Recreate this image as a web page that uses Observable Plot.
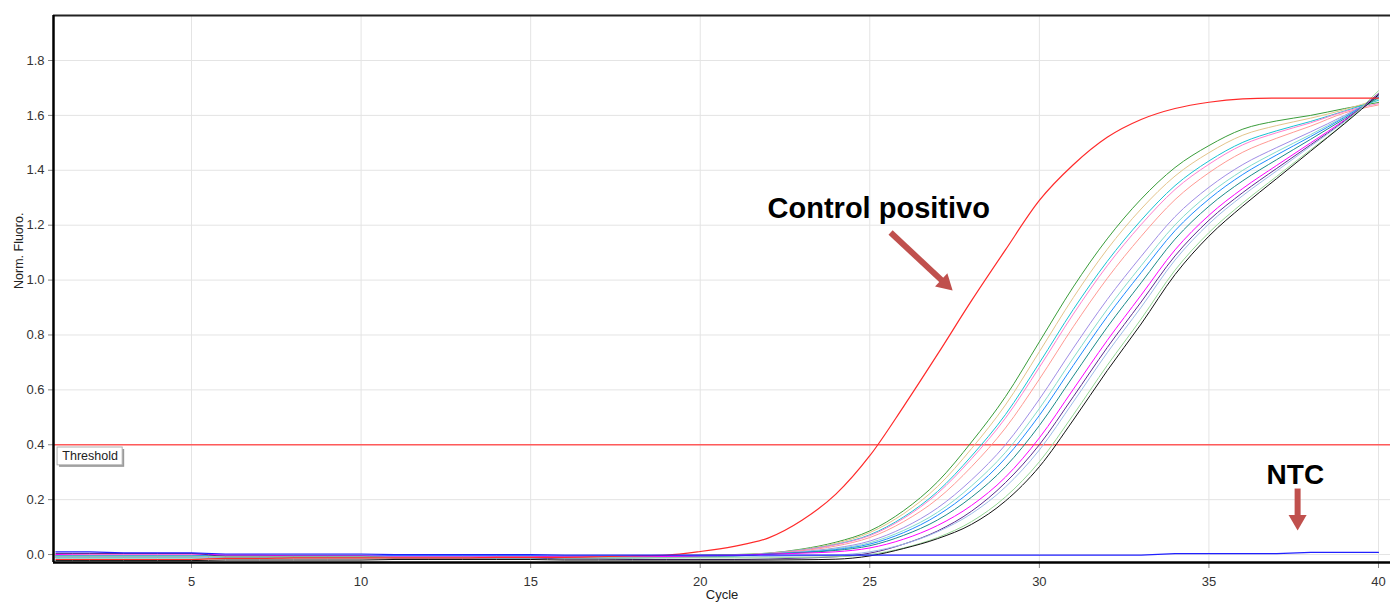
<!DOCTYPE html>
<html>
<head>
<meta charset="utf-8">
<script src="https://cdn.jsdelivr.net/npm/d3@7"></script>
<script src="https://cdn.jsdelivr.net/npm/@observablehq/plot@0.6"></script>
<style>
  html, body { margin: 0; padding: 0; background: #fff; }
  #chart svg { display: block; }
</style>
</head>
<body>
<div id="chart"></div>
<script>
// ---- data ----
const cycles = [1,2,3,4,5,6,7,8,9,10,11,12,13,14,15,16,17,18,19,20,21,22,23,24,25,26,27,28,29,30,31,32,33,34,35,36,37,38,39,40];

const xTicks = [5,10,15,20,25,30,35,40];
const yTicks = [0,0.2,0.4,0.6,0.8,1.0,1.2,1.4,1.6,1.8];
const xDomain = [0.93, 40.354];
const yDomain = [-0.029, 1.964];
const threshold = 0.4;

const sampleNames  = ["S1","S2","S3","S4","S5","S6","S7","S8","S9","S10","S11","S12","S13","S14"];
const sampleColors = ["#3a9d3a","#e4c48c","#19c3d3","#ff80d0","#ff9a94","#a08ee6","#84dccb","#1e8cff","#1b8a8a","#ff00ff","#5b2c8f","#9ebce8","#96d896","#111111"];

const s1  = [-0.004,-0.004,-0.004,-0.004,-0.004,-0.006,-0.006,-0.006,-0.006,-0.008,-0.008,-0.008,-0.008,-0.008,-0.008,-0.006,-0.006,-0.006,-0.004,-0.002,0.0,0.005,0.02,0.045,0.086,0.16,0.265,0.41,0.575,0.775,0.975,1.15,1.295,1.41,1.49,1.55,1.58,1.60,1.625,1.647];
const s2  = [-0.002,-0.002,-0.002,-0.002,-0.002,-0.007,-0.007,-0.007,-0.007,-0.007,-0.01,-0.01,-0.01,-0.01,-0.01,-0.01,-0.008,-0.008,-0.006,-0.004,-0.002,0.005,0.018,0.041,0.080,0.149,0.248,0.386,0.545,0.739,0.936,1.112,1.259,1.379,1.464,1.528,1.563,1.590,1.621,1.66];
const s3  = [-0.008,-0.008,-0.008,-0.008,-0.008,-0.004,-0.004,-0.004,-0.004,-0.004,-0.006,-0.006,-0.006,-0.006,-0.006,-0.009,-0.009,-0.009,-0.007,-0.005,-0.003,0.004,0.017,0.037,0.072,0.137,0.230,0.359,0.510,0.698,0.893,1.068,1.218,1.344,1.434,1.502,1.544,1.578,1.616,1.655];
const s4  = [0.0,0.0,0.0,0.0,0.0,-0.003,-0.003,-0.003,-0.003,-0.003,-0.005,-0.005,-0.005,-0.005,-0.005,-0.007,-0.007,-0.007,-0.005,-0.003,-0.002,0.004,0.016,0.036,0.069,0.132,0.223,0.349,0.497,0.682,0.876,1.052,1.202,1.330,1.422,1.493,1.537,1.573,1.614,1.643];
const s5  = [-0.012,-0.012,-0.012,-0.012,-0.012,-0.014,-0.014,-0.014,-0.014,-0.014,-0.012,-0.012,-0.012,-0.012,-0.012,-0.01,-0.01,-0.01,-0.008,-0.006,-0.004,0.003,0.014,0.031,0.062,0.120,0.203,0.320,0.461,0.639,0.830,1.006,1.159,1.293,1.391,1.466,1.517,1.561,1.609,1.638];
const s6  = [-0.006,-0.006,-0.006,-0.006,-0.006,-0.008,-0.008,-0.008,-0.008,-0.008,-0.011,-0.011,-0.011,-0.011,-0.011,-0.011,-0.011,-0.011,-0.009,-0.007,-0.005,0.003,0.011,0.024,0.049,0.098,0.170,0.272,0.400,0.566,0.752,0.929,1.086,1.231,1.338,1.421,1.483,1.540,1.600,1.665];
const s7  = [-0.015,-0.015,-0.015,-0.015,-0.015,-0.012,-0.012,-0.012,-0.012,-0.012,-0.014,-0.014,-0.014,-0.014,-0.014,-0.014,-0.014,-0.012,-0.01,-0.008,-0.006,0.002,0.009,0.021,0.043,0.088,0.154,0.250,0.372,0.532,0.716,0.893,1.052,1.201,1.313,1.400,1.468,1.530,1.596,1.66];
const s8  = [-0.004,-0.004,-0.004,-0.004,-0.004,-0.002,-0.002,-0.002,-0.002,-0.002,-0.004,-0.004,-0.004,-0.004,-0.004,-0.006,-0.006,-0.006,-0.006,-0.005,-0.004,0.002,0.008,0.018,0.038,0.080,0.143,0.233,0.351,0.507,0.689,0.867,1.027,1.180,1.295,1.385,1.456,1.523,1.593,1.67];
const s9  = [-0.01,-0.01,-0.01,-0.01,-0.01,-0.01,-0.01,-0.01,-0.01,-0.01,-0.008,-0.008,-0.008,-0.008,-0.008,-0.012,-0.012,-0.012,-0.01,-0.008,-0.006,0.002,0.007,0.015,0.032,0.070,0.126,0.209,0.320,0.470,0.650,0.828,0.990,1.149,1.269,1.362,1.439,1.513,1.588,1.665];
const s10 = [0.0,0.003,0.003,0.003,0.003,-0.002,-0.002,-0.005,-0.005,-0.005,-0.007,-0.007,-0.007,-0.007,-0.007,-0.009,-0.009,-0.009,-0.007,-0.005,-0.003,0.001,0.005,0.010,0.024,0.056,0.106,0.179,0.282,0.425,0.602,0.780,0.945,1.110,1.236,1.334,1.418,1.500,1.583,1.675];
const s11 = [0.004,0.004,0.004,0.004,0.004,-0.006,-0.006,-0.006,-0.006,-0.006,-0.012,-0.012,-0.012,-0.012,-0.012,-0.016,-0.016,-0.018,-0.018,-0.018,-0.018,-0.016,-0.013,-0.008,0.005,0.038,0.086,0.158,0.262,0.400,0.575,0.754,0.920,1.088,1.218,1.319,1.407,1.493,1.580,1.68];
const s12 = [-0.01,-0.01,-0.01,-0.01,-0.01,-0.012,-0.012,-0.012,-0.012,-0.012,-0.01,-0.01,-0.01,-0.01,-0.01,-0.012,-0.012,-0.012,-0.012,-0.01,-0.009,-0.007,-0.005,-0.002,0.010,0.038,0.083,0.149,0.246,0.381,0.556,0.735,0.901,1.073,1.205,1.308,1.398,1.488,1.577,1.675];
const s13 = [-0.006,-0.006,-0.006,-0.006,-0.006,-0.008,-0.008,-0.008,-0.008,-0.008,-0.01,-0.01,-0.01,-0.01,-0.01,-0.012,-0.012,-0.012,-0.012,-0.012,-0.012,-0.012,-0.01,-0.008,0.0,0.024,0.062,0.12,0.21,0.338,0.509,0.689,0.858,1.036,1.173,1.281,1.378,1.475,1.572,1.69];
const s14 = [-0.022,-0.022,-0.022,-0.022,-0.022,-0.02,-0.02,-0.02,-0.02,-0.02,-0.018,-0.018,-0.018,-0.018,-0.018,-0.02,-0.02,-0.02,-0.02,-0.02,-0.02,-0.02,-0.019,-0.017,-0.005,0.022,0.058,0.11,0.195,0.32,0.49,0.67,0.84,1.02,1.16,1.27,1.37,1.47,1.57,1.675];
const sampleValues = [s1,s2,s3,s4,s5,s6,s7,s8,s9,s10,s11,s12,s13,s14];

const controlColor = "#ff2a2a";
const controlValues = [-0.018,-0.018,-0.018,-0.018,-0.018,-0.014,-0.014,-0.012,-0.012,-0.012,-0.012,-0.012,-0.012,-0.01,-0.01,-0.01,-0.008,-0.005,-0.002,0.011,0.03,0.06,0.125,0.22,0.36,0.54,0.73,0.925,1.11,1.29,1.42,1.52,1.585,1.625,1.648,1.66,1.663,1.663,1.663,1.663];

const ntcColor = "#2020ff";
const ntcValues = [0.01,0.01,0.006,0.006,0.006,0.002,0.002,0.002,0.002,0.002,0.0,0.0,0.0,0.0,0.0,-0.002,-0.002,-0.002,-0.002,-0.002,-0.002,-0.002,-0.002,-0.002,-0.002,-0.002,-0.002,-0.002,-0.002,-0.002,-0.002,-0.002,-0.002,0.003,0.003,0.003,0.003,0.008,0.008,0.008];

// annotations (data coordinates)
const annotColor = "#c0504d";
const labelTexts = ["Control positivo", "NTC"];
const labelX = [21.986, 36.70];
const labelY = [1.228, 0.2587];
const labelSize = [29, 28];
const arrowX1 = [25.613, 37.615];
const arrowY1 = [1.1733, 0.2405];
const arrowX2 = [27.218, 37.615];
const arrowY2 = [0.9878, 0.1253];
const arrowRotate = [133, 180];
const thresholdBox = {x1: 1.05, x2: 2.97, y1: 0.39, y2: 0.325};
const thresholdLabel = "Threshold";

const font = "'Liberation Sans', Arial, sans-serif";

const lineMarks = [];
sampleValues.forEach((vals, k) => {
  lineMarks.push(Plot.line(vals, {x: (d, i) => cycles[i], y: d => d, stroke: sampleColors[k], strokeWidth: 1, curve: "monotone-x"}));
});
lineMarks.push(Plot.line(controlValues, {x: (d, i) => cycles[i], y: d => d, stroke: controlColor, strokeWidth: 1.2, curve: "monotone-x"}));
lineMarks.push(Plot.line(ntcValues, {x: (d, i) => cycles[i], y: d => d, stroke: ntcColor, strokeWidth: 1.2}));

const arrows = labelTexts.map((t, i) => ({x1: arrowX1[i], y1: arrowY1[i], x2: arrowX2[i], y2: arrowY2[i], r: arrowRotate[i]}));
const labels = labelTexts.map((t, i) => ({t, x: labelX[i], y: labelY[i], s: labelSize[i]}));

const chart = Plot.plot({
  width: 1392,
  height: 602,
  marginLeft: 53,
  marginRight: 2,
  marginTop: 15,
  marginBottom: 40,
  style: {background: "#fff", fontFamily: font, fontSize: "13px", overflow: "visible"},
  x: {domain: xDomain},
  y: {domain: yDomain},
  marks: [
    Plot.gridX(xTicks, {stroke: "#e4e4e4", strokeOpacity: 1}),
    Plot.gridY(yTicks, {stroke: "#e4e4e4", strokeOpacity: 1}),
    Plot.axisX(xTicks, {tickSize: 6, tickPadding: 8, fontSize: 13, stroke: "#888", fill: "#333", label: null}),
    Plot.axisY(yTicks, {tickSize: 5, tickPadding: 4, fontSize: 13, stroke: "#888", fill: "#333", label: null, tickFormat: d3.format(".1f")}),
    Plot.ruleY([threshold], {stroke: "#ff5a5a", strokeWidth: 1.6}),
    ...lineMarks,
    // threshold label box with shadow
    Plot.rect([thresholdBox], {x1: "x1", x2: "x2", y1: "y1", y2: "y2", fill: "#9a9a9a", dx: 2, dy: 2}),
    Plot.rect([thresholdBox], {x1: "x1", x2: "x2", y1: "y1", y2: "y2", fill: "#fff", stroke: "#b0b0b0", strokeWidth: 1}),
    Plot.text([thresholdLabel], {x: (thresholdBox.x1 + thresholdBox.x2) / 2, y: (thresholdBox.y1 + thresholdBox.y2) / 2, text: d => d, fontSize: 12.5, fill: "#222"}),
    // frame lines
    Plot.ruleY([yDomain[1]], {stroke: "#222", strokeWidth: 2}),
    Plot.ruleX([xDomain[0]], {stroke: "#000", strokeWidth: 2.5}),
    Plot.ruleY([yDomain[0]], {stroke: "#000", strokeWidth: 2.5}),
    // annotations
    Plot.link(arrows, {x1: "x1", y1: "y1", x2: "x2", y2: "y2", stroke: annotColor, strokeWidth: 6}),
    Plot.dot(arrows, {x: "x2", y: "y2", symbol: "triangle", r: 6.7, fill: annotColor, stroke: "none", rotate: "r"}),
    Plot.text(labels, {x: "x", y: "y", text: "t", fontSize: "s", fontWeight: "bold", fill: "#000", textAnchor: "start", lineAnchor: "bottom"}),
    // axis titles
    Plot.text(["Norm. Fluoro."], {frameAnchor: "left", dx: -35, rotate: -90, text: d => d, fontSize: 12.5, fill: "#222"}),
    Plot.text(["Cycle"], {frameAnchor: "bottom", dy: 36, text: d => d, fontSize: 13, fill: "#222"})
  ]
});
document.getElementById("chart").appendChild(chart);
</script>
</body>
</html>
